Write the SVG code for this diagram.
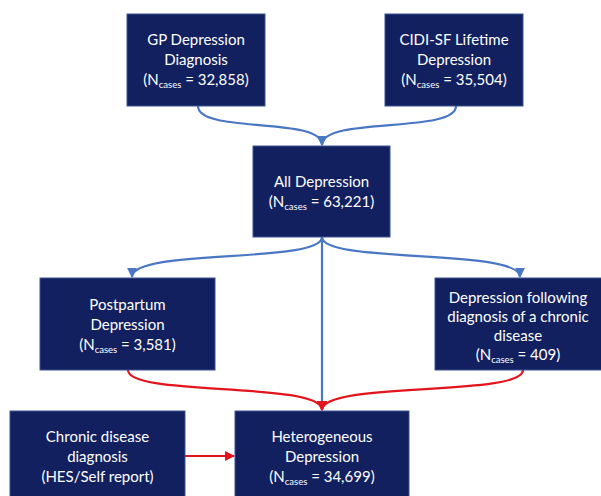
<svg xmlns="http://www.w3.org/2000/svg" width="601" height="496" viewBox="0 0 601 496">
<defs>
<style>
.box{fill:#13205f;stroke:#3a5596;stroke-width:1}
.t{font-family:Lato,"Liberation Sans",sans-serif;font-size:15px;fill:#ffffff;text-anchor:middle}
.sub{font-size:9.5px}
.blue{fill:none;stroke:#4a77c4;stroke-width:2.2}
.red{fill:none;stroke:#e3141c;stroke-width:2.2}
</style>
<marker id="ab" viewBox="0 0 10 10" refX="9" refY="5" markerWidth="4.5" markerHeight="4.5" orient="auto-start-reverse" markerUnits="strokeWidth"><path d="M0,0 L10,5 L0,10 z" fill="#4a77c4"/></marker>
<marker id="ar" viewBox="0 0 10 10" refX="9" refY="5" markerWidth="4.5" markerHeight="4.5" orient="auto-start-reverse" markerUnits="strokeWidth"><path d="M0,0 L10,5 L0,10 z" fill="#e3141c"/></marker>
</defs>
<rect width="601" height="496" fill="#ffffff"/>
<g id="connectors">
<path class="blue" marker-end="url(#ab)" d="M198,106 C198,134 322,116 322,145"/>
<path class="blue" marker-end="url(#ab)" d="M456,106 C456,134 322,116 322,145"/>
<path class="blue" marker-end="url(#ab)" d="M322,237 C322,264 132,248 132,277"/>
<path class="blue" marker-end="url(#ab)" d="M322,237 C322,264 520,248 520,277"/>
<path class="blue" marker-end="url(#ab)" d="M322,237 L322,410"/>
<path class="red" marker-end="url(#ar)" d="M128,370 C128,397 322,381 322,410"/>
<path class="red" marker-end="url(#ar)" d="M523,370 C523,397 322,381 322,410"/>
<path class="red" marker-end="url(#ar)" d="M185,456 L234,456"/>
</g>
<g id="gp">
<rect class="box" x="127" y="14" width="138" height="92"/>
<text class="t" x="196" y="45">GP Depression</text>
<text class="t" x="196" y="65">Diagnosis</text>
<text class="t" x="196" y="85">(N<tspan class="sub" dy="3">cases</tspan><tspan dy="-3"> = 32,858)</tspan></text>
</g>
<g id="cidi">
<rect class="box" x="385" y="14" width="138" height="92"/>
<text class="t" x="454" y="45">CIDI-SF Lifetime</text>
<text class="t" x="454" y="65">Depression</text>
<text class="t" x="454" y="85">(N<tspan class="sub" dy="3">cases</tspan><tspan dy="-3"> = 35,504)</tspan></text>
</g>
<g id="all">
<rect class="box" x="253" y="146" width="137" height="91"/>
<text class="t" x="321.5" y="187">All Depression</text>
<text class="t" x="321.5" y="207">(N<tspan class="sub" dy="3">cases</tspan><tspan dy="-3"> = 63,221)</tspan></text>
</g>
<g id="postpartum">
<rect class="box" x="40" y="278" width="175" height="92"/>
<text class="t" x="127.5" y="310">Postpartum</text>
<text class="t" x="127.5" y="330">Depression</text>
<text class="t" x="127.5" y="350">(N<tspan class="sub" dy="3">cases</tspan><tspan dy="-3"> = 3,581)</tspan></text>
</g>
<g id="following">
<rect class="box" x="435" y="278" width="170" height="92"/>
<text class="t" x="518" y="303">Depression following</text>
<text class="t" x="518" y="322">diagnosis of a chronic</text>
<text class="t" x="518" y="341">disease</text>
<text class="t" x="518" y="360">(N<tspan class="sub" dy="3">cases</tspan><tspan dy="-3"> = 409)</tspan></text>
</g>
<g id="chronic">
<rect class="box" x="10" y="411" width="175" height="90"/>
<text class="t" x="97.5" y="442">Chronic disease</text>
<text class="t" x="97.5" y="462">diagnosis</text>
<text class="t" x="97.5" y="482">(HES/Self report)</text>
</g>
<g id="heterogeneous">
<rect class="box" x="235" y="411" width="174" height="90"/>
<text class="t" x="322" y="442">Heterogeneous</text>
<text class="t" x="322" y="462">Depression</text>
<text class="t" x="322" y="482">(N<tspan class="sub" dy="3">cases</tspan><tspan dy="-3"> = 34,699)</tspan></text>
</g>
</svg>
